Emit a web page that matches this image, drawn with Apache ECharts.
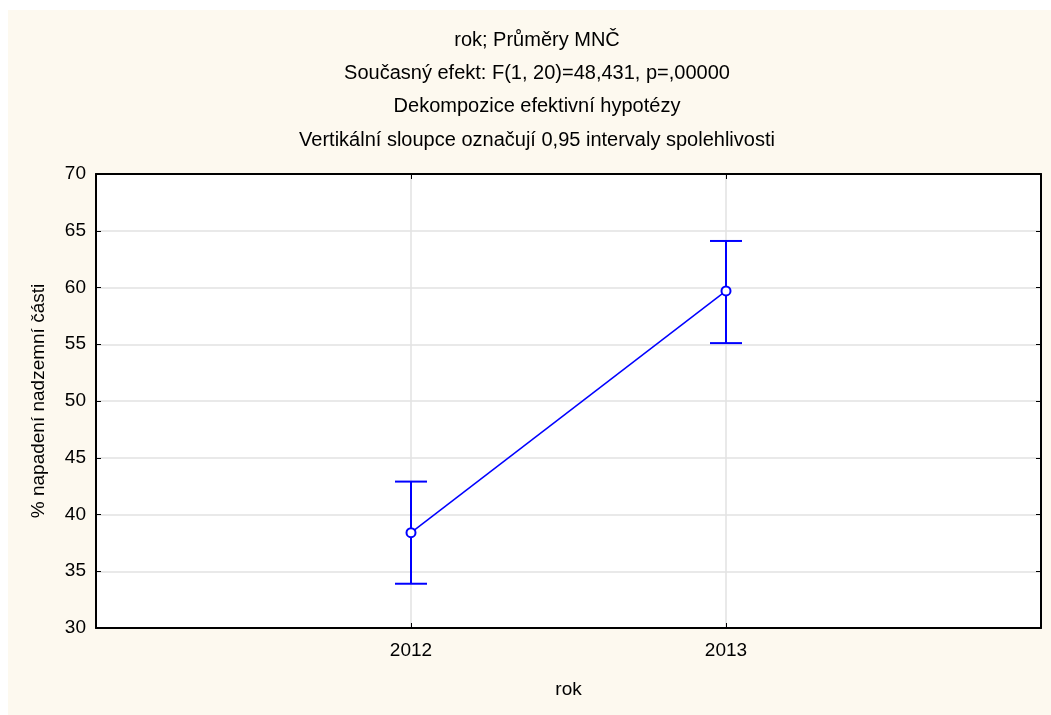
<!DOCTYPE html>
<html>
<head>
<meta charset="utf-8">
<script src="https://cdn.jsdelivr.net/npm/echarts@6/dist/echarts.min.js"></script>
<style>
  html, body { margin: 0; padding: 0; background: #fff; }
  #chart { width: 1051px; height: 715px; }
</style>
</head>
<body>
<div id="chart"></div>
<script>
// data
const years = [2012, 2013]
const means = [38.4, 59.7]
const lower = [33.9, 55.1]
const upper = [42.9, 64.1]

const titleLines = [
  'rok; Průměry MNČ',
  'Současný efekt: F(1, 20)=48,431, p=,00000',
  'Dekompozice efektivní hypotézy',
  'Vertikální sloupce označují 0,95 intervaly spolehlivosti'
]

const font = 'Liberation Sans, Arial, sans-serif'
const blue = '#0000ff'

const chart = echarts.init( document.getElementById( 'chart' ) )

const errData = years.map( ( y, i ) => [y, lower[i], upper[i]] )
const meanData = years.map( ( y, i ) => [y, means[i]] )

const frameAxis = {
  axisLine : { show : true, onZero : false, lineStyle : { color : '#000', width : 2 } },
  axisTick : { show : true, inside : true, length : 5, lineStyle : { color : '#000' } },
  axisLabel : { show : false },
  splitLine : { show : false }
}

chart.setOption( {
  backgroundColor : '#ffffff',
  animation : false,
  graphic : [
    {
      type : 'rect',
      z : -10,
      silent : true,
      shape : { x : 8, y : 10, width : 1043, height : 705 },
      style : { fill : '#fdf9ef' }
    }
  ].concat( titleLines.map( ( t, i ) => ( {
    type : 'text',
    x : 537,
    y : 40 + i * 33.4,
    style : {
      text : t,
      textAlign : 'center',
      textVerticalAlign : 'middle',
      font : '20px ' + font,
      fill : '#000'
    }
  } ) ) ),
  grid : {
    left : 96,
    right : 10,
    top : 174,
    bottom : 87,
    show : true,
    backgroundColor : '#ffffff',
    borderWidth : 0
  },
  xAxis : [
    {
      type : 'value',
      min : 2011,
      max : 2014,
      interval : 1,
      name : 'rok',
      nameLocation : 'middle',
      nameGap : 52,
      nameTextStyle : { fontFamily : font, fontSize : 19, color : '#000' },
      axisLine : { show : true, onZero : false, lineStyle : { color : '#000', width : 2 } },
      axisTick : { show : true, inside : true, length : 5, lineStyle : { color : '#000' } },
      axisLabel : {
        margin : 13,
        fontFamily : font,
        fontSize : 19,
        color : '#000',
        formatter : v => ( v === 2012 || v === 2013 ) ? String( v ) : ''
      },
      splitLine : { show : true, lineStyle : { color : '#e2e2e2', width : 1.5 } }
    },
    Object.assign( { type : 'value', position : 'top', min : 2011, max : 2014, interval : 1 }, frameAxis )
  ],
  yAxis : [
    {
      type : 'value',
      min : 30,
      max : 70,
      interval : 5,
      name : '% napadení nadzemní části',
      nameLocation : 'middle',
      nameGap : 48,
      nameTextStyle : { fontFamily : font, fontSize : 19, color : '#000' },
      axisLine : { show : true, lineStyle : { color : '#000', width : 2 } },
      axisTick : { show : true, inside : true, length : 5, lineStyle : { color : '#000' } },
      axisLabel : { margin : 10, fontFamily : font, fontSize : 19, color : '#000' },
      splitLine : { show : true, lineStyle : { color : '#e2e2e2', width : 1.5 } }
    },
    Object.assign( { type : 'value', position : 'right', min : 30, max : 70, interval : 5 }, frameAxis )
  ],
  series : [
    {
      type : 'custom',
      z : 3,
      data : errData,
      renderItem : ( params, api ) => {
        const x = api.value( 0 )
        const lo = api.coord( [x, api.value( 1 )] )
        const hi = api.coord( [x, api.value( 2 )] )
        const cap = 16
        const style = { stroke : blue, lineWidth : 2 }
        return {
          type : 'group',
          children : [
            { type : 'line', shape : { x1 : lo[0], y1 : lo[1], x2 : hi[0], y2 : hi[1] }, style },
            { type : 'line', shape : { x1 : lo[0] - cap, y1 : lo[1], x2 : lo[0] + cap, y2 : lo[1] }, style },
            { type : 'line', shape : { x1 : hi[0] - cap, y1 : hi[1], x2 : hi[0] + cap, y2 : hi[1] }, style }
          ]
        }
      }
    },
    {
      type : 'line',
      z : 4,
      data : meanData,
      symbol : 'circle',
      symbolSize : 9,
      showSymbol : true,
      lineStyle : { color : blue, width : 1.5 },
      itemStyle : { color : '#ffffff', borderColor : blue, borderWidth : 2 }
    }
  ]
} )
</script>
</body>
</html>
